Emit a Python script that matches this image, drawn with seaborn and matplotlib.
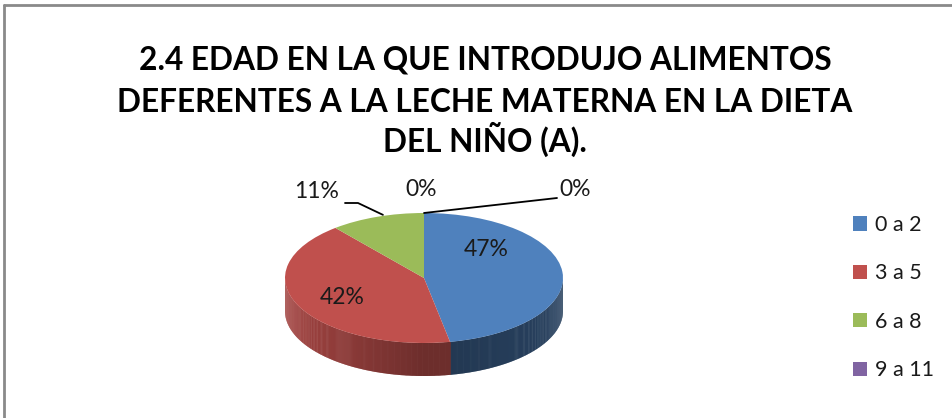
import numpy as np
import matplotlib
matplotlib.use("Agg")
import matplotlib.pyplot as plt
import seaborn as sns
from matplotlib.patches import Polygon, Patch
from matplotlib.lines import Line2D
from matplotlib.colors import to_rgb

# ---- data ----
categories = ["0 a 2", "3 a 5", "6 a 8", "9 a 11", "12 a más"]
values = [47, 42, 11, 0, 0]
legend_count = 4  # only four legend entries are visible in the reference
title_lines = ["2.4 EDAD EN LA QUE INTRODUJO ALIMENTOS",
               "DEFERENTES A LA LECHE MATERNA EN LA DIETA",
               "DEL NIÑO (A)."]
colors = ["#4F81BD", "#C0504D", "#9BBB59", "#8064A2", "#4BACC6"]

sns.set_theme(style="white")
plt.rcParams["font.family"] = ["Lato", "DejaVu Sans"]

W, H = 953, 418
fig = plt.figure(figsize=(W / 100, H / 100), dpi=100)

# ellipse geometry in pixels (y measured from top)
cx, cy, rx, ry, depth = 424, 278, 139, 65, 33
dd = depth / ry
ax = fig.add_axes([(cx - rx) / W, (H - (cy + ry + depth)) / H, 2 * rx / W, (2 * ry + depth) / H])
wedges, _ = ax.pie(values, colors=colors, startangle=90, counterclock=False,
                   radius=1, wedgeprops=dict(linewidth=0))
ax.set_aspect("auto")
ax.set_xlim(-1, 1)
ax.set_ylim(-1 - dd, 1)
for w in wedges:
    w.set_zorder(3)

# side walls (front half of the cylinder)
for w, col in zip(wedges, colors):
    base = np.array(to_rgb(col))
    for k in (-360, 0, 360):
        a, b = w.theta1 + k, w.theta2 + k
        lo, hi = max(a, 180), min(b, 360)
        if hi <= lo:
            continue
        mid_cos = np.cos(np.radians((lo + hi) / 2))
        ts = np.linspace(lo, hi, max(2, int((hi - lo) * 2)))
        for t0, t1 in zip(ts[:-1], ts[1:]):
            tm = np.radians((t0 + t1) / 2)
            if mid_cos < 0:
                f = 0.57 - 0.28 * min(np.cos(tm), 0)
            else:
                f = 0.42 + 0.08 * np.cos(tm)
            tt = np.radians(np.linspace(t0, t1 + 0.3, 4))
            xs = np.concatenate([np.cos(tt), np.cos(tt[::-1])])
            ys = np.concatenate([np.sin(tt), np.sin(tt[::-1]) - dd])
            ax.add_patch(Polygon(np.column_stack([xs, ys]), closed=True,
                                 facecolor=np.clip(base * f, 0, 1), edgecolor="none", zorder=2))

# overlay in pixel coordinates for labels
ov = fig.add_axes([0, 0, 1, 1])
ov.set_xlim(0, W)
ov.set_ylim(H, 0)
ov.axis("off")
ov.patch.set_alpha(0)

def edge_point(deg):
    r = np.radians(deg)
    return cx + rx * np.cos(r), cy - ry * np.sin(r)

labels_txt = [f"{v}%" for v in values]
label_pos = [(486, 250), (342, 297), (317, 191), (421, 190), (575, 190)]
for txt, (x, y) in zip(labels_txt, label_pos):
    ov.text(x, y, txt, ha="center", va="center", fontsize=16.5, color="#1a1a1a")

# leader lines
gx, gy = edge_point((wedges[2].theta1 + wedges[2].theta2) / 2)
ov.plot([345, 358, gx + 6], [203, 203, gy - 2], color="black", lw=1.3)
tx, ty = edge_point(wedges[4].theta1)
ov.plot([557, tx], [198, ty], color="black", lw=1.3)

# title (three centred lines, baselines from the reference)
for line, base_y in zip(title_lines, [70, 112, 152]):
    ov.text(485, base_y, line, ha="center", va="baseline", fontsize=22.8,
            fontweight="bold", color="black")

# legend
handles = [Patch(facecolor=c, edgecolor="none") for c in colors[:legend_count]]
fig.legend(handles, categories[:legend_count], loc="upper left",
           bbox_to_anchor=(853 / W, 1 - 215 / H), frameon=False, fontsize=15.5,
           handlelength=0.65, handleheight=0.65, handletextpad=0.37, labelspacing=1.32,
           borderaxespad=0, borderpad=0, labelcolor="#1a1a1a")

# chart border (top and left visible)
fig.add_artist(Line2D([4 / W, 1], [1 - 5 / H, 1 - 5 / H], transform=fig.transFigure,
                      color="#8a8a8a", lw=2))
fig.add_artist(Line2D([4 / W, 4 / W], [0, 1 - 5 / H], transform=fig.transFigure,
                      color="#8a8a8a", lw=2))

fig.savefig("out.png", dpi=100, facecolor="white")
